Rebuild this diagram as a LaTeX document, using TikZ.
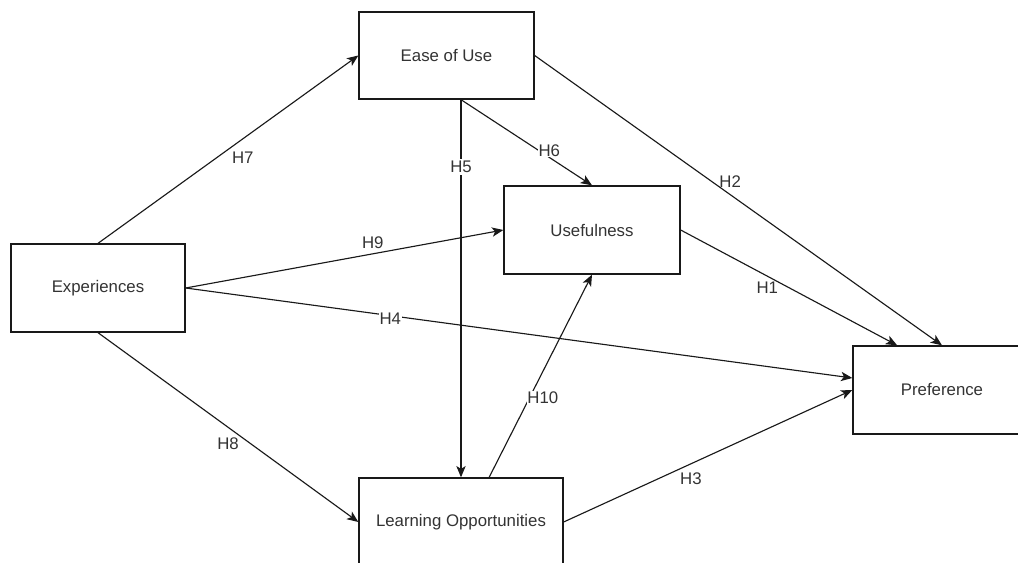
\documentclass[tikz,border=0pt]{standalone}
\usepackage{fontspec}
\setmainfont{Liberation Sans}
\usetikzlibrary{arrows.meta,calc}

\tikzset{
  construct/.style={draw=black!90, line width=1pt, fill=white, inner sep=0pt,
    text=black!80, font=\fontsize{12.6}{15}\selectfont},
  path/.style={draw=black!90, line width=0.85pt,
    -{Stealth[length=8.5pt,width=7pt,inset=2.2pt]}},
  hyp/.style={text=black!80, font=\fontsize{12.6}{15}\selectfont, inner sep=1.5pt},
  hypbg/.style={hyp, fill=white},
}

\begin{document}
\begin{tikzpicture}[x=0.75pt, y=-0.75pt]
  \useasboundingbox (0,0) rectangle (1018,563);
  \clip (0,0) rectangle (1018,563);

  % constructs of the model
  \node[construct, minimum width=131.25pt, minimum height=65.25pt] (ease) at (446.5,55.5) {Ease of Use};
  \node[construct, minimum width=132pt, minimum height=66pt] (use) at (592,230) {Usefulness};
  \node[construct, minimum width=130.5pt, minimum height=66pt] (exp) at (98,288) {Experiences};
  \node[construct, minimum width=133.5pt, minimum height=66pt] (pref) at (942,390) {Preference};
  \node[construct, minimum width=153pt, minimum height=66pt] (lo) at (461,522) {Learning Opportunities};

  % attachment points on the box borders
  \coordinate (easeB) at (lo.north |- ease.south);
  \coordinate (prefN) at ($(pref.north west)!0.25!(pref.north east)$);
  \coordinate (prefW) at ([yshift=9pt]pref.west);
  \coordinate (loN) at ($(lo.north west)!0.637!(lo.north east)$);

  % hypothesised paths
  \draw[path] (exp.north) -- node[hyp, pos=0.556, yshift=-14pt] (h7) {H7} (ease.west);
  \draw[path] (exp.east) -- node[hyp, pos=0.589, yshift=8pt] (h9) {H9} (use.west);
  \draw[path] (exp.east) -- node[hypbg, pos=0.307, yshift=-2.5pt, inner sep=0.5pt] (h4) {H4} (prefW);
  \draw[path] (exp.south) -- node[hypbg, pos=0.51, yshift=-10.5pt, xshift=-2pt, inner sep=0.5pt] (h8) {H8} (lo.west);
  \draw[path] (easeB) -- node[hypbg, pos=0.179] (h5) {H5} (lo.north);
  \draw[path] (easeB) -- node[hypbg, pos=0.674, yshift=5pt, inner sep=0.5pt] (h6) {H6} (use.north);
  \draw[path] (ease.east) -- node[hyp, pos=0.48, yshift=9.5pt] (h2) {H2} (pref.north);
  \draw[path] (use.east) -- node[hyp, pos=0.4, yshift=-9pt] (h1) {H1} (prefN);
  \draw[path] (loN) -- node[hypbg, pos=0.392, xshift=10pt, inner sep=0.5pt] (h10) {H10} (use.south);
  \draw[path] (lo.east) -- node[hyp, pos=0.441, yshift=-11pt] (h3) {H3} (pref.west);
\end{tikzpicture}
\end{document}
